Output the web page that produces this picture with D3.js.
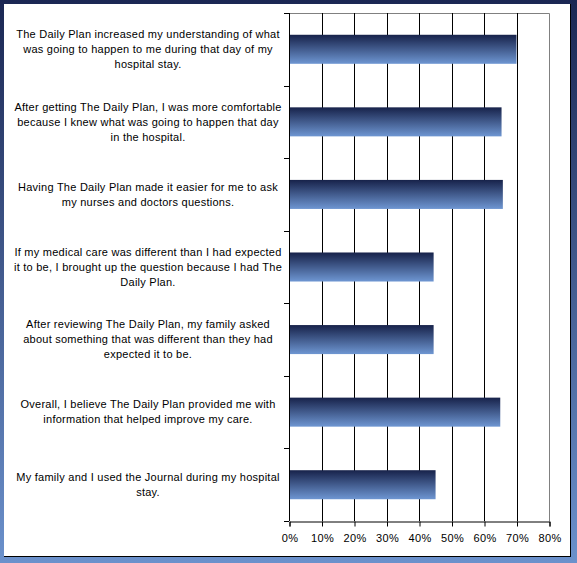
<!DOCTYPE html>
<html>
<head>
<meta charset="utf-8">
<script src="https://cdn.jsdelivr.net/npm/d3@7"></script>
<style>
  body { margin: 0; padding: 0; }
  svg { display: block; }
</style>
</head>
<body>
<div class="canva"></div>
<script>
// questions, one string per bar, "\n" where the line breaks in the original
const categories = [
  "The Daily Plan increased my understanding of what\nwas going to happen to me during that day of my\nhospital stay.",
  "After getting The Daily Plan, I was more comfortable\nbecause I knew what was going to happen that day\nin the hospital.",
  "Having The Daily Plan made it easier for me to ask\nmy nurses and doctors questions.",
  "If my medical care was different than I had expected\nit to be, I brought up the question because I had The\nDaily Plan.",
  "After reviewing The Daily Plan, my family asked\nabout something that was different than they had\nexpected it to be.",
  "Overall, I believe The Daily Plan provided me with\ninformation that helped improve my care.",
  "My family and I used the Journal during my hospital\nstay."
];
const values = [0.70, 0.654, 0.658, 0.445, 0.445, 0.65, 0.451];
const xTicks = [0, 0.1, 0.2, 0.3, 0.4, 0.5, 0.6, 0.7, 0.8];

const W = 577, H = 563;
const plot = { left: 289, right: 549, top: 13, bottom: 521 };

const svg = d3.select('.canva').append('svg')
  .attr('width', W)
  .attr('height', H);

const defs = svg.append('defs');
const bg = defs.append('linearGradient').attr('id', 'bg')
  .attr('x1', 0).attr('y1', 0).attr('x2', 0).attr('y2', 1);
bg.append('stop').attr('offset', '0%').attr('stop-color', '#1b2753');
bg.append('stop').attr('offset', '100%').attr('stop-color', '#6b91cc');

const barGrad = defs.append('linearGradient').attr('id', 'bar')
  .attr('x1', 0).attr('y1', 0).attr('x2', 0).attr('y2', 1);
barGrad.append('stop').attr('offset', '0%').attr('stop-color', '#17224a');
barGrad.append('stop').attr('offset', '100%').attr('stop-color', '#6e96d2');

// frame
svg.append('rect').attr('width', W).attr('height', H).attr('fill', 'url(#bg)');
svg.append('rect').attr('x', 4).attr('y', 4).attr('width', 567).attr('height', 553).attr('fill', '#000');
svg.append('rect').attr('x', 4).attr('y', 4).attr('width', 566).attr('height', 552).attr('fill', '#fff');

const x = d3.scaleLinear().domain([0, 0.8]).range([plot.left, plot.right]);
const y = d3.scaleBand().domain(d3.range(categories.length))
  .range([plot.top, plot.bottom]).paddingInner(0.6).paddingOuter(0.3);

// plot border (gray top and right)
svg.append('path')
  .attr('d', `M${plot.left},${plot.top + 0.5}H${plot.right + 0.5}V${plot.bottom}`)
  .attr('fill', 'none').attr('stroke', '#808080').attr('stroke-width', 1);

// gridlines
svg.append('g').selectAll('line')
  .data(xTicks.slice(1, -1))
  .enter().append('line')
  .attr('x1', d => Math.round(x(d)) + 0.5)
  .attr('x2', d => Math.round(x(d)) + 0.5)
  .attr('y1', plot.top)
  .attr('y2', plot.bottom)
  .attr('stroke', '#000');

// bars
svg.append('g').selectAll('rect')
  .data(values)
  .enter().append('rect')
  .attr('x', x(0) + 1)
  .attr('y', (d, i) => y(i))
  .attr('width', d => x(d) - x(0) - 1)
  .attr('height', y.bandwidth())
  .attr('fill', 'url(#bar)');

// x axis
const xAxis = d3.axisBottom(x)
  .tickValues(xTicks)
  .tickFormat(d3.format('.0%'))
  .tickSize(5)
  .tickPadding(8);
const gx = svg.append('g')
  .attr('transform', `translate(0.5,${plot.bottom + 0.5})`)
  .call(xAxis);
gx.select('.domain').attr('stroke', '#000');
gx.selectAll('.tick line').attr('stroke', '#000');
gx.selectAll('text')
  .attr('font-family', 'Liberation Sans, Arial, sans-serif')
  .attr('font-size', 11)
  .attr('letter-spacing', '0.3px')
  .attr('fill', '#000');

// y axis line and ticks between categories
const yTicks = d3.range(categories.length + 1).map(i => plot.top + i * (plot.bottom - plot.top) / categories.length);
svg.append('line')
  .attr('x1', plot.left + 0.5).attr('x2', plot.left + 0.5)
  .attr('y1', plot.top).attr('y2', plot.bottom)
  .attr('stroke', '#000');
svg.append('g').selectAll('line')
  .data(yTicks)
  .enter().append('line')
  .attr('x1', plot.left - 5).attr('x2', plot.left)
  .attr('y1', d => Math.round(d) + 0.5)
  .attr('y2', d => Math.round(d) + 0.5)
  .attr('stroke', '#000');

// category labels
const labels = svg.append('g')
  .attr('font-family', 'Liberation Sans, Arial, sans-serif')
  .attr('font-size', 11)
  .attr('letter-spacing', '0.25px')
  .attr('fill', '#000')
  .attr('text-anchor', 'middle');
const lineH = 15;
categories.forEach((c, i) => {
  const lines = c.split('\n');
  const cy = y(i) + y.bandwidth() / 2;
  const t = labels.append('text')
    .attr('x', 148)
    .attr('y', cy - (lines.length - 1) * lineH / 2)
    .attr('dy', '0.35em');
  lines.forEach((l, j) => {
    t.append('tspan')
      .attr('x', 148)
      .attr('dy', j === 0 ? '0.35em' : lineH)
      .text(l);
  });
});
</script>
</body>
</html>
